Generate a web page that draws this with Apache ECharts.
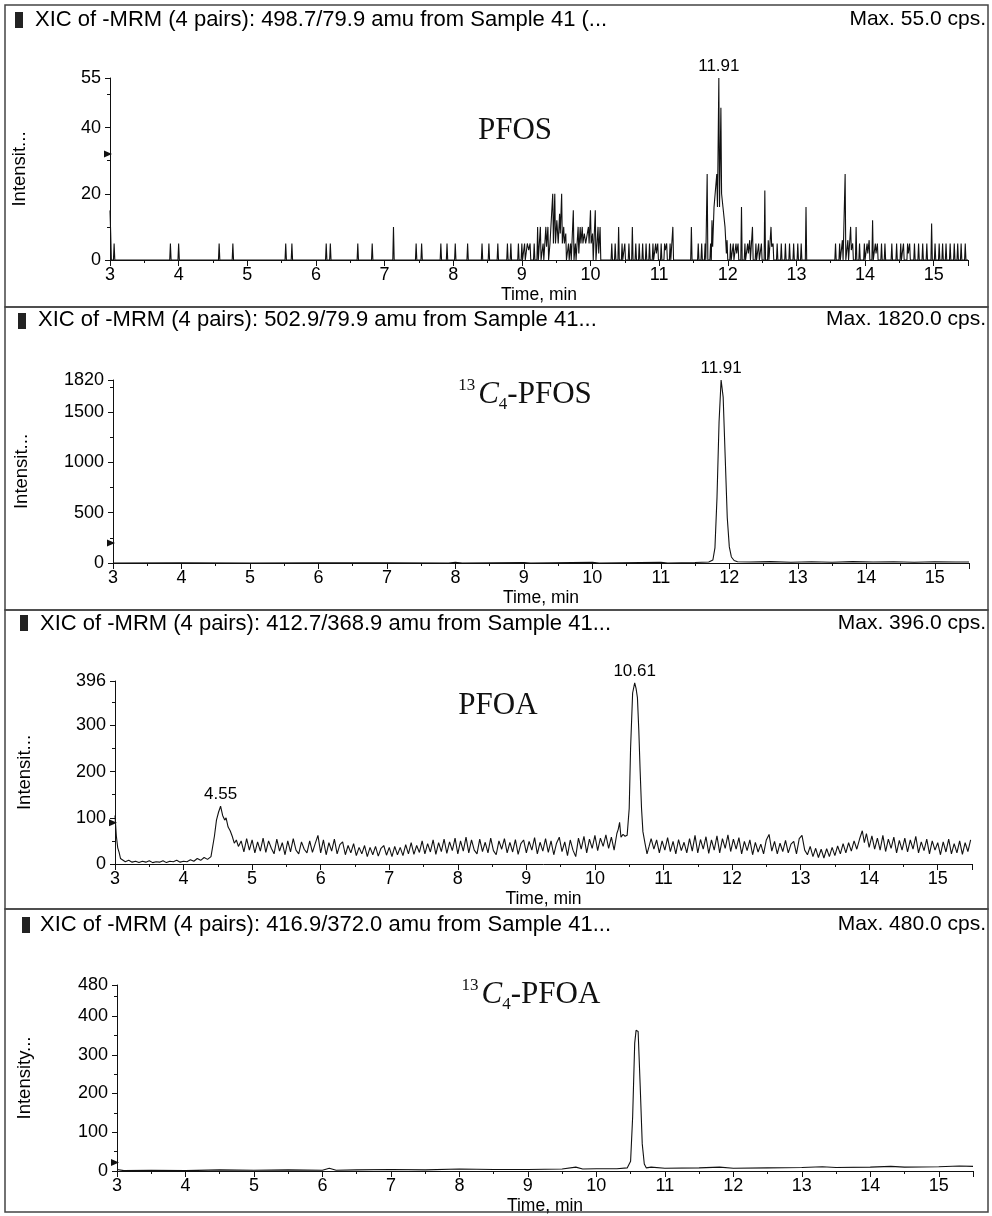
<!DOCTYPE html>
<html><head><meta charset="utf-8">
<script src="https://cdn.jsdelivr.net/npm/echarts@6/dist/echarts.min.js"></script>
<style>html,body{margin:0;padding:0;background:#fff}#c{width:992px;height:1216px}</style>
</head><body><div id="c"></div>
<script>
// ---------------- data ----------------
const TITLES = [
  'XIC of -MRM (4 pairs): 498.7/79.9 amu from Sample 41 (...',
  'XIC of -MRM (4 pairs): 502.9/79.9 amu from Sample 41...',
  'XIC of -MRM (4 pairs): 412.7/368.9 amu from Sample 41...',
  'XIC of -MRM (4 pairs): 416.9/372.0 amu from Sample 41...'
];
const MAX_TEXT = ['Max. 55.0 cps.', 'Max. 1820.0 cps.', 'Max. 396.0 cps.', 'Max. 480.0 cps.'];
const COMPOUNDS = ['PFOS', '{sup|13}{it|C}{sub|4}-PFOS', 'PFOA', '{sup|13}{it|C}{sub|4}-PFOA'];
const Y_NAMES = ['Intensit...', 'Intensit...', 'Intensit...', 'Intensity...'];
const Y_MAX = [55, 1820, 396, 480];
const Y_INTERVAL = [20, 500, 100, 100];
const X_MIN = 3, X_MAX = 15.5, X_INTERVAL = 1;
const X_NAME = 'Time, min';
// peak annotations: [panel, retention time]
const PEAKS = [[0, 11.91], [1, 11.91], [2, 4.55], [2, 10.61]];
// threshold markers on the intensity axes
const THRESHOLDS = [32, 200, 89, 22];

// PFOS 498.7/79.9 [time(min), intensity(cps)]
const PFOS = [
[3.00,15],[3.01,8],[3.02,0],[3.05,0],[3.06,5],[3.07,0],
[3.87,0],[3.88,5],[3.89,0],[3.99,0],[4.00,5],[4.01,0],
[4.58,0],[4.59,5],[4.60,0],[4.78,0],[4.79,5],[4.80,0],
[5.55,0],[5.56,5],[5.57,0],[5.64,0],[5.65,5],[5.66,0],
[6.14,0],[6.15,5],[6.16,0],[6.20,0],[6.21,5],[6.22,0],
[6.60,0],[6.61,5],[6.62,0],[6.81,0],[6.82,5],[6.83,0],
[7.12,0],[7.13,10],[7.14,0],
[7.45,0],[7.46,5],[7.47,0],[7.53,0],[7.54,5],[7.55,0],
[7.81,0],[7.82,5],[7.83,0],[7.90,0],[7.91,5],[7.92,0],[8.02,0],[8.03,5],[8.04,0],
[8.20,0],[8.21,5],[8.22,0],[8.41,0],[8.42,5],[8.43,0],[8.51,0],[8.52,5],[8.53,0],
[8.64,0],[8.65,5],[8.66,0],[8.78,0],[8.79,5],[8.80,0],[8.83,0],[8.84,5],[8.85,0],
[8.94,0],[8.95,5],[8.96,0],[8.99,0],[9.00,5],[9.01,0],[9.03,0],[9.04,5],[9.05,0],
[9.07,0],[9.08,5],[9.10,3],[9.12,5],[9.13,0],[9.17,0],[9.18,5],[9.19,0],
[9.22,0],[9.23,10],[9.24,0],[9.26,0],[9.27,10],[9.28,0],[9.30,0],[9.31,5],[9.32,0],
[9.34,0],[9.35,10],[9.36,4],[9.38,10],[9.39,0],[9.41,5],[9.43,5],[9.45,20],[9.46,5],
[9.48,20],[9.49,5],[9.51,12],[9.53,5],[9.55,14],[9.56,8],[9.58,20],[9.59,5],[9.61,10],
[9.62,5],[9.64,8],[9.65,0],[9.67,0],[9.68,5],[9.69,0],[9.71,5],[9.72,0],[9.74,0],
[9.75,15],[9.76,0],[9.78,5],[9.79,0],[9.81,0],[9.82,10],[9.83,2],[9.85,10],[9.86,5],
[9.88,10],[9.89,5],[9.91,8],[9.93,5],[9.95,5],[9.97,10],[9.98,5],[10.00,15],[10.01,5],
[10.03,8],[10.04,0],[10.06,0],[10.07,15],[10.08,0],[10.10,0],[10.11,10],[10.12,2],
[10.14,10],[10.15,0],
[10.30,0],[10.31,5],[10.32,0],[10.35,0],[10.36,5],[10.37,0],[10.40,0],[10.41,10],[10.42,0],
[10.45,0],[10.46,5],[10.47,0],[10.49,0],[10.50,5],[10.51,0],[10.55,0],[10.56,5],[10.57,0],
[10.60,0],[10.61,10],[10.62,0],[10.65,0],[10.66,5],[10.67,0],[10.70,0],[10.71,5],[10.72,0],
[10.75,0],[10.76,5],[10.77,0],[10.80,0],[10.81,5],[10.82,0],[10.85,0],[10.86,5],[10.87,0],
[10.90,0],[10.91,5],[10.92,0],[10.94,0],[10.95,5],[10.96,2],[10.98,5],[10.99,0],
[11.02,0],[11.03,5],[11.04,0],[11.07,0],[11.08,5],[11.09,3],[11.11,5],[11.12,0],
[11.15,0],[11.16,5],[11.17,0],[11.19,0],[11.20,10],[11.21,0],
[11.46,0],[11.47,10],[11.48,0],[11.56,0],[11.57,5],[11.58,0],[11.61,0],[11.62,5],[11.63,0],
[11.66,0],[11.67,5],[11.68,0],[11.69,0],[11.70,26],[11.71,0],[11.74,0],[11.75,5],[11.76,0],
[11.77,12],[11.78,4],[11.80,16],[11.82,16],[11.84,26],[11.85,16],[11.87,55],[11.88,16],
[11.90,46],[11.91,20],[11.93,16],[11.95,16],[11.96,10],[11.98,2],[11.99,6],[12.00,0],
[12.03,0],[12.04,5],[12.05,0],[12.07,0],[12.08,5],[12.09,0],[12.11,0],[12.12,5],[12.13,2],
[12.15,5],[12.16,0],[12.19,0],[12.20,16],[12.21,0],[12.24,0],[12.25,5],[12.26,0],
[12.28,0],[12.29,5],[12.30,2],[12.32,6],[12.33,0],[12.35,0],[12.36,10],[12.37,0],
[12.40,0],[12.41,5],[12.42,0],[12.44,0],[12.45,5],[12.46,0],[12.48,0],[12.49,5],[12.50,0],
[12.53,0],[12.54,21],[12.55,0],[12.58,0],[12.59,6],[12.60,0],[12.62,0],[12.63,10],[12.64,4],
[12.66,5],[12.67,0],[12.71,0],[12.72,5],[12.73,0],[12.77,0],[12.78,5],[12.79,0],
[12.83,0],[12.84,5],[12.85,0],[12.89,0],[12.90,5],[12.91,0],[12.95,0],[12.96,5],[12.97,0],
[13.01,0],[13.02,5],[13.03,0],[13.06,0],[13.07,5],[13.08,0],[13.13,0],[13.14,16],[13.15,0],
[13.56,0],[13.57,5],[13.58,0],[13.62,0],[13.63,5],[13.64,0],[13.66,0],[13.67,6],[13.68,0],
[13.70,0],[13.71,26],[13.72,0],[13.74,0],[13.75,6],[13.76,0],[13.78,0],[13.79,10],[13.80,3],
[13.82,5],[13.83,0],[13.86,0],[13.87,10],[13.88,0],[13.91,0],[13.92,5],[13.93,0],
[13.98,0],[13.99,5],[14.00,0],[14.02,0],[14.03,5],[14.04,2],[14.06,6],[14.07,0],
[14.10,0],[14.11,12],[14.12,0],[14.14,0],[14.15,5],[14.16,2],[14.18,5],[14.19,0],
[14.23,0],[14.24,5],[14.25,0],[14.28,0],[14.29,5],[14.30,0],[14.38,0],[14.39,5],[14.40,0],
[14.45,0],[14.46,5],[14.47,0],[14.51,0],[14.52,5],[14.53,0],[14.55,0],[14.56,5],[14.57,0],
[14.61,0],[14.62,5],[14.63,2],[14.65,5],[14.66,0],[14.71,0],[14.72,5],[14.73,0],
[14.77,0],[14.78,5],[14.79,0],[14.83,0],[14.84,5],[14.85,0],[14.89,0],[14.90,5],[14.91,0],
[14.96,0],[14.97,11],[14.98,0],[15.01,0],[15.02,5],[15.03,0],[15.07,0],[15.08,5],[15.09,0],
[15.12,0],[15.13,5],[15.14,0],[15.17,0],[15.18,5],[15.19,0],[15.23,0],[15.24,5],[15.25,0],
[15.29,0],[15.30,5],[15.31,0],[15.34,0],[15.35,5],[15.36,0],[15.39,0],[15.40,5],[15.41,0],
[15.45,0],[15.46,5],[15.47,0],[15.50,0]
];

// 13C4-PFOS 502.9/79.9
const C13_PFOS = [
[3.00,0],[4.00,2],[5.00,0],[6.00,3],[7.00,2],[7.90,0],[8.00,8],[8.10,0],[9.00,5],[9.10,0],
[10.00,6],[10.10,0],[11.00,8],[11.10,0],[11.50,5],[11.70,10],[11.76,30],[11.79,150],
[11.82,650],[11.85,1400],[11.88,1820],[11.91,1650],[11.94,1050],[11.97,450],[12.00,160],
[12.03,60],[12.07,25],[12.12,12],[12.30,10],[12.60,14],[12.90,8],[13.20,12],[13.50,8],
[13.80,14],[14.10,10],[14.40,12],[14.70,8],[15.00,12],[15.30,10],[15.50,10]
];

// PFOA 412.7/368.9
const PFOA = [
[3.00,105],[3.02,60],[3.04,35],[3.06,25],[3.08,12],[3.10,8],[3.15,5],[3.20,8],[3.25,4],
[3.30,6],[3.35,3],[3.40,6],[3.45,4],[3.50,7],[3.55,3],[3.60,5],[3.65,4],[3.70,7],[3.75,3],
[3.80,6],[3.85,5],[3.90,8],[3.95,4],[4.00,6],[4.05,5],[4.10,9],[4.15,6],[4.20,12],[4.25,8],
[4.30,14],[4.35,10],[4.40,16],[4.42,12],[4.45,60],[4.48,95],[4.51,112],[4.54,125],[4.57,105],
[4.60,95],[4.62,100],[4.65,80],[4.68,72],[4.71,60],[4.74,45],[4.77,52],[4.80,38],
[4.84,50],[4.88,26],[4.92,55],[4.96,30],[5.00,52],[5.04,24],[5.08,48],[5.12,28],[5.16,56],
[5.20,25],[5.24,50],[5.28,34],[5.32,22],[5.36,54],[5.40,28],[5.44,46],[5.48,20],[5.52,50],
[5.56,26],[5.60,55],[5.64,30],[5.68,22],[5.72,48],[5.76,32],[5.80,24],[5.84,50],[5.88,25],
[5.92,44],[5.96,62],[6.00,24],[6.04,52],[6.08,20],[6.12,46],[6.16,28],[6.20,54],[6.24,22],
[6.28,42],[6.32,48],[6.36,20],[6.40,40],[6.44,24],[6.48,44],[6.52,18],[6.56,36],[6.60,22],
[6.64,40],[6.68,16],[6.72,36],[6.76,20],[6.80,38],[6.84,17],[6.88,34],[6.92,40],[6.96,19],
[7.00,36],[7.04,16],[7.08,38],[7.12,20],[7.16,36],[7.20,18],[7.24,42],[7.28,22],[7.32,46],
[7.36,21],[7.40,40],[7.44,25],[7.48,50],[7.52,22],[7.56,44],[7.60,26],[7.64,52],[7.68,21],
[7.72,46],[7.76,27],[7.80,54],[7.84,23],[7.88,48],[7.92,29],[7.96,56],[8.00,22],[8.04,50],
[8.08,28],[8.12,58],[8.16,24],[8.20,52],[8.24,30],[8.28,22],[8.32,54],[8.36,27],[8.40,47],
[8.44,24],[8.48,56],[8.52,29],[8.56,20],[8.60,50],[8.64,32],[8.68,55],[8.72,24],[8.76,47],
[8.80,26],[8.84,53],[8.88,21],[8.92,44],[8.96,52],[9.00,24],[9.04,49],[9.08,30],[9.12,57],
[9.16,22],[9.20,47],[9.24,28],[9.28,55],[9.32,25],[9.36,50],[9.40,20],[9.44,45],[9.48,58],
[9.52,27],[9.56,48],[9.60,18],[9.64,52],[9.68,30],[9.72,16],[9.76,56],[9.80,32],[9.84,60],
[9.88,24],[9.92,54],[9.96,34],[10.00,62],[10.04,29],[10.08,56],[10.12,38],[10.16,63],
[10.20,34],[10.24,58],[10.28,30],[10.32,66],[10.34,75],[10.36,90],[10.38,58],[10.41,64],
[10.44,60],[10.47,62],[10.50,120],[10.52,250],[10.55,370],[10.58,392],[10.60,380],[10.62,360],
[10.64,290],[10.66,200],[10.68,120],[10.70,70],[10.73,45],[10.76,22],[10.79,38],[10.82,55],
[10.86,32],[10.90,52],[10.94,24],[10.98,50],[11.02,30],[11.06,57],[11.10,27],[11.14,49],
[11.18,22],[11.22,53],[11.26,29],[11.30,47],[11.34,24],[11.38,55],[11.42,28],[11.46,62],
[11.50,24],[11.54,53],[11.58,32],[11.62,59],[11.66,23],[11.70,52],[11.74,30],[11.78,61],
[11.82,24],[11.86,55],[11.90,34],[11.94,63],[11.98,27],[12.02,54],[12.06,32],[12.10,57],
[12.14,22],[12.18,49],[12.22,29],[12.26,52],[12.30,20],[12.34,47],[12.38,26],[12.42,43],
[12.46,22],[12.50,52],[12.54,64],[12.58,28],[12.62,49],[12.66,22],[12.70,45],[12.74,27],
[12.78,51],[12.82,24],[12.86,43],[12.90,49],[12.94,22],[12.98,55],[13.02,62],[13.06,30],
[13.10,20],[13.14,38],[13.18,16],[13.22,34],[13.26,14],[13.30,32],[13.34,13],[13.38,33],
[13.42,16],[13.46,36],[13.50,18],[13.54,39],[13.58,22],[13.62,44],[13.66,24],[13.70,46],
[13.74,28],[13.78,50],[13.82,32],[13.86,54],[13.90,72],[13.93,46],[13.96,66],[14.00,36],
[14.04,61],[14.08,32],[14.12,56],[14.16,30],[14.20,62],[14.24,27],[14.28,54],[14.32,34],
[14.36,58],[14.40,24],[14.44,51],[14.48,30],[14.52,56],[14.56,26],[14.60,52],[14.64,32],
[14.68,60],[14.72,24],[14.76,48],[14.80,29],[14.84,54],[14.88,22],[14.92,50],[14.96,30],
[15.00,46],[15.04,20],[15.08,48],[15.12,26],[15.16,54],[15.20,22],[15.24,44],[15.28,24],
[15.32,50],[15.36,21],[15.40,46],[15.44,27],[15.48,52]
];

// 13C4-PFOA 416.9/372.0
const C13_PFOA = [
[3.00,4],[3.10,1],[3.50,2],[4.00,1],[4.50,3],[5.00,2],[5.50,3],[6.00,2],[6.10,7],[6.20,2],
[6.50,3],[7.00,4],[7.50,3],[8.00,5],[8.50,4],[9.00,4],[9.50,5],[9.70,10],[9.80,5],[10.00,6],
[10.30,6],[10.45,8],[10.50,25],[10.53,140],[10.56,330],[10.58,363],[10.61,360],[10.64,220],
[10.67,70],[10.70,18],[10.73,8],[10.80,10],[11.00,7],[11.50,8],[11.80,10],[12.00,7],
[12.50,8],[13.00,9],[13.30,11],[13.50,9],[14.00,10],[14.30,12],[14.50,10],[15.00,11],
[15.30,13],[15.50,12]
];

const SERIES_DATA = [PFOS, C13_PFOS, PFOA, C13_PFOA];

// ---------------- layout ----------------
const GRIDS = [
  {left: 110, top: 78,  width: 858, height: 182},
  {left: 113, top: 380, width: 856, height: 183},
  {left: 115, top: 681, width: 857, height: 183},
  {left: 117, top: 985, width: 856, height: 186}
];
const NAME_GAP = [81, 82, 81, 83];
const PANELS = [[5, 5, 302], [5, 307, 303], [5, 610, 299], [5, 909, 303]];
const TITLE_TOP = [9, 309, 613, 914];
const SQ = [[15, 12], [18, 313], [20, 615], [22, 917]];
const TITLE_LEFT = [35, 38, 40, 40];
const COMP_POS = [[515, 131], [525, 395], [498, 706], [531, 995]];

const INK = '#111';
const TXT = '#000';
const SANS = 'Liberation Sans, Arial, sans-serif';

function peakPoint(data, t) {
  let best = null;
  for (const p of data) {
    if (Math.abs(p[0] - t) <= 0.1 && (!best || p[1] > best[1])) best = p;
  }
  return best;
}

const chart = echarts.init(document.getElementById('c'), null, {renderer: 'canvas'});

const xAxis = GRIDS.map((g, i) => ({
  type: 'value', gridIndex: i, min: X_MIN, max: X_MAX, interval: X_INTERVAL,
  axisLine: {show: true, onZero: false, lineStyle: {color: INK, width: 1}},
  axisTick: {show: true, length: 6, lineStyle: {color: INK}},
  minorTick: {show: true, splitNumber: 2, length: 3, lineStyle: {color: INK}},
  splitLine: {show: false},
  axisLabel: {fontSize: 18, color: TXT, margin: 6, fontFamily: SANS, showMaxLabel: false,
              formatter: v => String(v)},
  name: X_NAME, nameLocation: 'middle', nameGap: 26,
  nameTextStyle: {fontSize: 17.5, color: TXT, fontFamily: SANS}
}));

const yAxis = GRIDS.map((g, i) => ({
  type: 'value', gridIndex: i, min: 0, max: Y_MAX[i], interval: Y_INTERVAL[i],
  axisLine: {show: true, lineStyle: {color: INK, width: 1}},
  axisTick: {show: true, length: 5, lineStyle: {color: INK}},
  minorTick: {show: true, splitNumber: 2, length: 3, lineStyle: {color: INK}},
  splitLine: {show: false},
  axisLabel: {fontSize: 18, color: TXT, margin: 9, fontFamily: SANS, showMaxLabel: true, showMinLabel: true,
              formatter: v => String(v)},
  name: Y_NAMES[i], nameLocation: 'middle', nameGap: NAME_GAP[i],
  nameTextStyle: {fontSize: 18.5, color: TXT, fontFamily: SANS}
}));

const series = [];
SERIES_DATA.forEach((d, i) => {
  series.push({
    type: 'line', xAxisIndex: i, yAxisIndex: i, data: d,
    symbol: 'none', showSymbol: false, silent: true,
    lineStyle: {color: INK, width: 1.1}, clip: true
  });
  series.push({
    type: 'scatter', xAxisIndex: i, yAxisIndex: i,
    data: [[X_MIN, THRESHOLDS[i]]],
    symbol: 'triangle', symbolRotate: -90, symbolSize: [7, 8], symbolOffset: [-2, 0],
    itemStyle: {color: INK, opacity: 1}, silent: true
  });
});
PEAKS.forEach(([panel, t]) => {
  const p = peakPoint(SERIES_DATA[panel], t);
  series.push({
    type: 'scatter', xAxisIndex: panel, yAxisIndex: panel,
    data: [p], symbolSize: 0, silent: true,
    itemStyle: {opacity: 1},
    label: {show: true, position: 'top', distance: 3, formatter: t.toFixed(2),
            fontSize: 17, color: TXT, opacity: 1, fontFamily: SANS}
  });
});

const title = [];
TITLES.forEach((t, i) => {
  title.push({text: t, left: TITLE_LEFT[i], top: TITLE_TOP[i], padding: 0,
    textStyle: {fontFamily: SANS, fontSize: 22, fontWeight: 'normal', color: TXT}});
  title.push({text: MAX_TEXT[i], right: 6, top: TITLE_TOP[i], padding: 0,
    textStyle: {fontFamily: SANS, fontSize: 21, fontWeight: 'normal', color: TXT}});
});

const graphic = [];
PANELS.forEach(([x, y, h]) => {
  graphic.push({type: 'rect', shape: {x: x, y: y, width: 983, height: h}, silent: true,
    style: {fill: 'none', stroke: '#444', lineWidth: 1.5}});
});
SQ.forEach(([x, y]) => {
  graphic.push({type: 'rect', shape: {x: x, y: y, width: 8, height: 16}, silent: true,
    style: {fill: '#222'}});
});
const serif = 'Liberation Serif, Times New Roman, serif';
COMPOUNDS.forEach((c, i) => {
  graphic.push({type: 'text', x: COMP_POS[i][0], y: COMP_POS[i][1], silent: true,
    style: {text: c, align: 'center', verticalAlign: 'middle', fontFamily: serif, fontSize: 31,
      fill: '#111', lineHeight: 36,
      rich: {
        sup: {fontSize: 17, fontFamily: serif, verticalAlign: 'top', lineHeight: 36, padding: [0, 3, 14, 0]},
        it: {fontSize: 31, fontFamily: serif, fontStyle: 'italic', lineHeight: 36},
        sub: {fontSize: 17, fontFamily: serif, verticalAlign: 'bottom', lineHeight: 36, padding: [10, 0, 0, 0]}
      }}});
});

chart.setOption({
  backgroundColor: '#fff',
  animation: false,
  title: title,
  grid: GRIDS.map(g => Object.assign({containLabel: false}, g)),
  xAxis: xAxis,
  yAxis: yAxis,
  series: series,
  graphic: graphic
});
</script></body></html>
